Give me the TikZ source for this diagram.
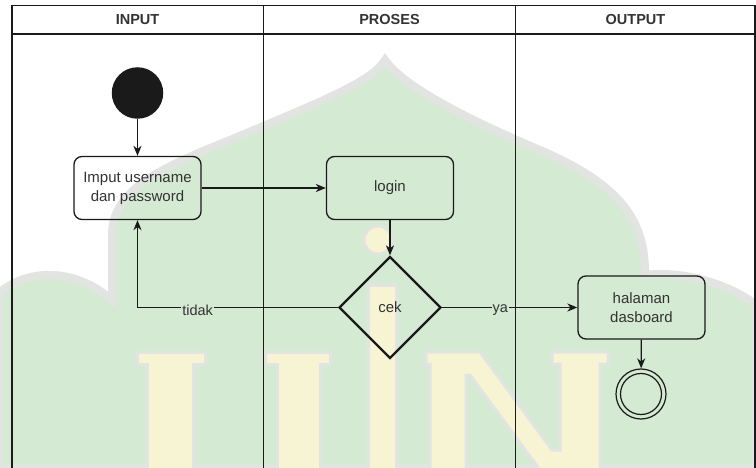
\documentclass[tikz,border=0pt]{standalone}
\usepackage{fontspec}
\setmainfont{Liberation Sans}
\usetikzlibrary{shapes.geometric,arrows.meta}

\definecolor{emgreen}{HTML}{D5EAD3}
\definecolor{emyellow}{HTML}{F7F4D3}
\definecolor{emhalo}{HTML}{E2E4E2}
\definecolor{ink}{HTML}{1A1A1A}
\definecolor{txt}{HTML}{333333}

\begin{document}
\begin{tikzpicture}[x=1pt,y=-1pt,
  lane/.style={draw=ink, line width=1.3pt},
  lanehead/.style={font=\bfseries\fontsize{14.5}{17}\selectfont, text=txt},
  act/.style={draw=ink, line width=1.3pt, rounded corners=8pt,
    minimum width=127pt, minimum height=63pt, inner sep=0pt,
    align=center, text=txt, font=\fontsize{15}{19}\selectfont},
  decision/.style={diamond, draw=ink, line width=2.3pt, aspect=1,
    minimum width=102pt, minimum height=102pt, inner sep=0pt,
    text=txt, font=\fontsize{15}{19}\selectfont},
  startnode/.style={circle, fill=ink, minimum size=51.5pt, inner sep=0pt},
  endnode/.style={circle, draw=ink, line width=1.2pt, minimum size=50pt, inner sep=0pt},
  flow/.style={draw=ink, line width=1.3pt,
    -{Stealth[length=10pt,width=8pt,inset=3pt]}},
  guard/.style={text=txt, font=\fontsize{14.5}{17}\selectfont,
    fill=emgreen, inner sep=1pt, yshift=-3pt}
]
\useasboundingbox (0,0) rectangle (756,468);
\fill[white] (0,0) rectangle (756,468);

% ---------- faint emblem in the background ----------
\path[draw=emhalo, line width=8pt, fill=emgreen]
  (0,468) -- (0,292)
  .. controls (30,268) and (75,268) .. (112,300)
  -- (112,235)
  .. controls (112,190) and (160,168) .. (230,140)
  .. controls (320,102) and (372,82) .. (385,60)
  .. controls (400,82) and (450,112) .. (540,150)
  .. controls (622,185) and (646,222) .. (645,275)
  .. controls (682,270) and (730,284) .. (756,305)
  -- (756,468) -- cycle;
\begin{scope}[draw=emhalo, line width=3pt, fill=emyellow]
  % U
  \filldraw (137,352) -- (205,352) -- (205,364) -- (193,364) -- (193,470)
    -- (147,470) -- (147,364) -- (137,364) -- cycle;
  \filldraw (265,352) -- (330,352) -- (330,364) -- (320,364) -- (320,470)
    -- (277,470) -- (277,364) -- (265,364) -- cycle;
  % I
  \filldraw (368,285) -- (396,285) -- (396,470) -- (368,470) -- cycle;
  \filldraw (378,240) circle[radius=14];
  % N
  \filldraw (426,352) -- (480,352) -- (552,450) -- (560,450) -- (560,364)
    -- (552,364) -- (552,352) -- (608,352) -- (608,364) -- (600,364)
    -- (600,470) -- (540,470) -- (470,375) -- (466,375) -- (466,470)
    -- (430,470) -- (430,364) -- (426,364) -- cycle;
\end{scope}

% ---------- swimlanes ----------
\fill[white] (12,5.5) rectangle (755,34);
\draw[lane] (12,5.5) -- (755,5.5);
\draw[lane] (12,34) -- (755,34);
\draw[lane] (12,5.5) -- (12,470);
\draw[lane] (263.5,5.5) -- (263.5,470);
\draw[lane] (515.5,5.5) -- (515.5,470);
\draw[lane] (755,5.5) -- (755,470);
\node[lanehead] (hin)  at (137.5,20) {INPUT};
\node[lanehead] (hpro) at (389.5,20) {PROSES};
\node[lanehead] (hout) at (635.5,20) {OUTPUT};

% ---------- activity flow ----------
\node[startnode] (start) at (137.5,93) {};
\node[act] (inp)   at (137.5,188) {Imput username\\dan password};
\node[act] (login) at (390,188) {login};
\node[decision] (cek) at (390,307.5) {cek};
\node[act] (hal)   at (641.5,307.5) {halaman\\dasboard};
\node[endnode] (end) at (641,394) {};
\draw[ink, line width=1.2pt] (end.center) circle[radius=20.5pt];

\draw[flow] (start) -- (inp);
\draw[flow] (inp) -- (login);
\draw[flow] (login) -- (cek);
\draw[flow] (cek.west) -| node[guard, pos=0.35] {tidak} (inp.south);
\draw[flow] (cek.east) -- node[guard, pos=0.43] {ya} (hal.west);
\draw[flow] (hal) -- (end);
\end{tikzpicture}
\end{document}
